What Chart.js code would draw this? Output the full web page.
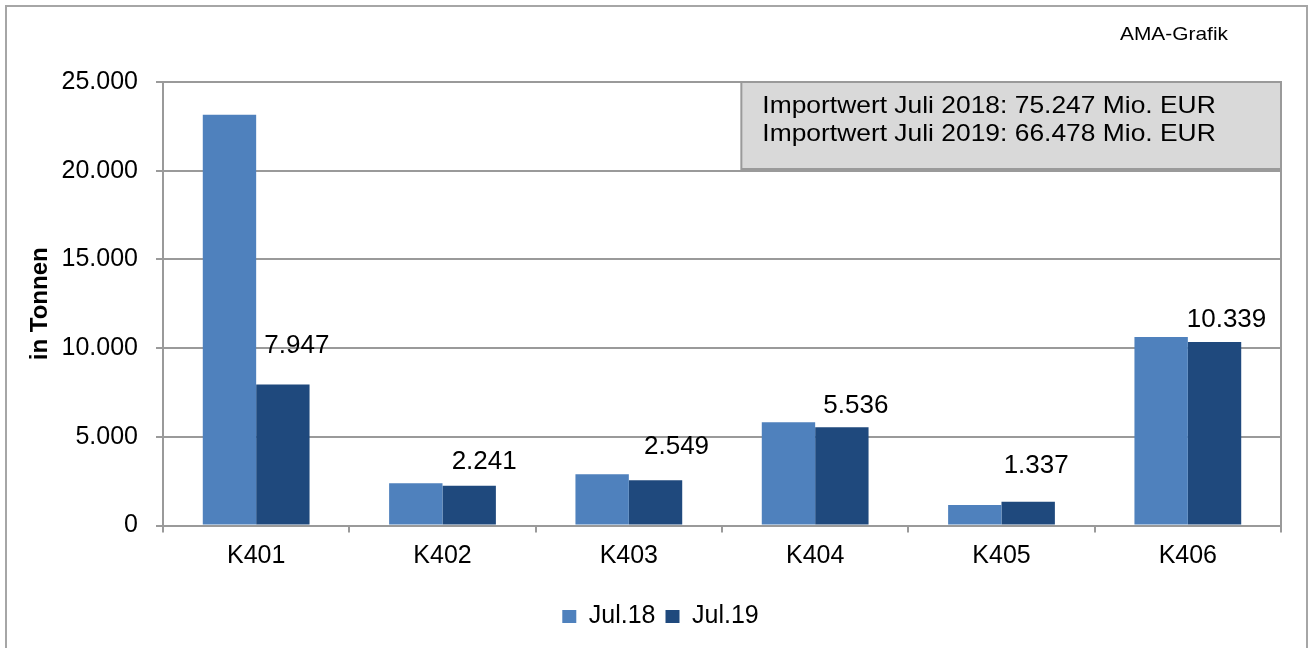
<!DOCTYPE html>
<html lang="de">
<head>
<meta charset="utf-8">
<title>Importe K401 - K406</title>
<script src="https://cdn.jsdelivr.net/npm/chart.js@4.4.1/dist/chart.umd.min.js"></script>
<style>
  html, body { margin: 0; padding: 0; background: #fff; }
  #wrap { position: relative; width: 1308px; height: 648px; overflow: hidden; }
  #rahmen { position: absolute; left: 5px; top: 5px; width: 1299px; height: 660px;
            border: 2px solid #a6a6a6; border-bottom: none; }
  #grafik { position: absolute; left: 0; top: 0; }
</style>
</head>
<body>
<div id="wrap">
  <div id="rahmen"></div>
  <canvas id="grafik" width="1308" height="648"></canvas>
</div>
<script>
// === DATEN ===
const kategorien = ['K401', 'K402', 'K403', 'K404', 'K405', 'K406'];
const serienNamen = ['Jul.18', 'Jul.19'];
const werteJul18 = [23150, 2380, 2890, 5820, 1160, 10620];
const werteJul19 = [7947, 2241, 2549, 5536, 1337, 10339];
const yTicks = [0, 5000, 10000, 15000, 20000, 25000];
const importTexte = [
  'Importwert Juli 2018: 75.247 Mio. EUR',
  'Importwert Juli 2019: 66.478 Mio. EUR'
];
const quelle = 'AMA-Grafik';

// === FARBEN / SCHRIFT ===
const FONT = "'Liberation Sans', Arial, Helvetica, sans-serif";
const GRAU = '#9a9a9a';
const farben = ['#4f81bd', '#1f497d'];

// Tausenderpunkt wie im Original
const fmtZahl = (n) => String(n).replace(/\B(?=(\d{3})+(?!\d))/g, '.');

// === PLUGINS ===
// grauer Infokasten oben rechts + rechter Rand der Zeichenfläche
const infoKasten = {
  id: 'infoKasten',
  beforeDatasetsDraw(chart) {
    const { ctx, chartArea: a } = chart;
    ctx.save();
    ctx.strokeStyle = GRAU;
    ctx.lineWidth = 2;
    ctx.beginPath();
    ctx.moveTo(a.right, a.top);
    ctx.lineTo(a.right, a.bottom);
    ctx.stroke();

    const x0 = a.left + (a.right - a.left) * 0.5173;
    const y0 = a.top;
    const w = a.right - x0;
    const h = 87;
    ctx.fillStyle = '#d9d9d9';
    ctx.fillRect(x0, y0, w, h);
    ctx.strokeRect(x0, y0, w, h);

    ctx.fillStyle = '#000';
    ctx.font = '24px ' + FONT;
    ctx.textBaseline = 'middle';
    importTexte.forEach((t, i) => {
      ctx.save();
      ctx.translate(x0 + 21, y0 + 24 + i * 28);
      ctx.scale(1.1, 1);
      ctx.fillText(t, 0, 0);
      ctx.restore();
    });
    ctx.restore();
  }
};

// Werte nur für Jul.19, leicht versetzt über den Balken
const wertLabels = {
  id: 'wertLabels',
  afterDatasetsDraw(chart, args, opts) {
    const { ctx } = chart;
    const meta = chart.getDatasetMeta(1);
    ctx.save();
    ctx.fillStyle = '#000';
    ctx.font = '26px ' + FONT;
    ctx.textAlign = 'center';
    ctx.textBaseline = 'middle';
    meta.data.forEach((bar, i) => {
      const [dx, dy] = opts.versatz[i] || [14, -28];
      ctx.fillText(fmtZahl(chart.data.datasets[1].data[i]), bar.x + dx, bar.y + dy);
    });
    ctx.restore();
  }
};

const quellenText = {
  id: 'quellenText',
  afterDraw(chart) {
    const { ctx } = chart;
    ctx.save();
    ctx.fillStyle = '#000';
    ctx.font = '19px ' + FONT;
    ctx.textBaseline = 'middle';
    ctx.translate(1120, 35);
    ctx.scale(1.1, 1);
    ctx.fillText(quelle, 0, 0);
    ctx.restore();
  }
};

// === CHART ===
const ctx = document.getElementById('grafik').getContext('2d');
new Chart(ctx, {
  type: 'bar',
  data: {
    labels: kategorien,
    datasets: [
      { label: serienNamen[0], data: werteJul18, backgroundColor: farben[0] },
      { label: serienNamen[1], data: werteJul19, backgroundColor: farben[1] }
    ]
  },
  options: {
    responsive: false,
    animation: false,
    devicePixelRatio: 1,
    categoryPercentage: 0.573,
    barPercentage: 1.0,
    layout: { padding: { left: 40, right: 27, top: 82, bottom: 9 } },
    plugins: {
      legend: {
        position: 'bottom',
        labels: {
          color: '#000',
          font: { family: FONT, size: 25 },
          boxWidth: 14,
          boxHeight: 13,
          padding: 10
        }
      },
      tooltip: { enabled: false },
      wertLabels: {
        versatz: [[14, -39], [15, -24], [21, -33], [14, -21], [8, -36], [12, -22]]
      }
    },
    scales: {
      x: {
        offset: true,
        grid: {
          display: true,
          offset: true,
          drawOnChartArea: false,
          drawTicks: true,
          tickLength: 7,
          color: GRAU,
          lineWidth: 2
        },
        border: { color: GRAU, width: 2 },
        ticks: { color: '#000', font: { family: FONT, size: 25 }, padding: 9 },
        afterFit: (s) => { s.height = 68.5; }
      },
      y: {
        min: yTicks[0],
        max: yTicks[yTicks.length - 1],
        afterBuildTicks: (s) => { s.ticks = yTicks.map(v => ({ value: v })); },
        grid: { color: GRAU, lineWidth: 2, tickLength: 7 },
        border: { color: GRAU, width: 2 },
        ticks: {
          color: '#000',
          font: { family: FONT, size: 25 },
          padding: 18,
          callback: (v) => fmtZahl(v)
        },
        title: {
          display: true,
          text: 'in Tonnen',
          color: '#000',
          font: { family: FONT, size: 24, weight: 'bold' },
          padding: { top: -14, bottom: 0 }
        },
        afterFit: (s) => { s.width = 123; }
      }
    }
  },
  plugins: [infoKasten, wertLabels, quellenText]
});
</script>
</body>
</html>
